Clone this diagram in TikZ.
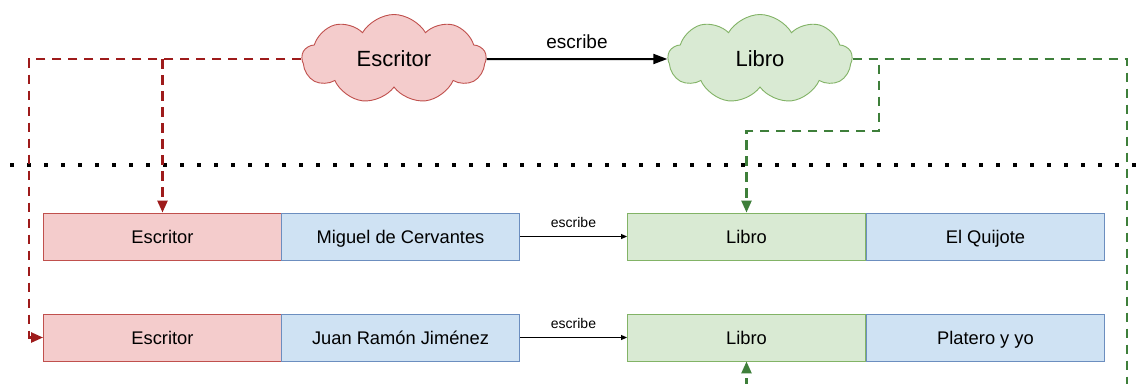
\documentclass[tikz,border=0pt]{standalone}
\usepackage{fontspec}
\setmainfont{Liberation Sans}
\usetikzlibrary{shapes.symbols,arrows.meta,calc}

\definecolor{redfill}{HTML}{F4CCCC}
\definecolor{rededge}{HTML}{C0504D}
\definecolor{redlink}{HTML}{9E1B1B}
\definecolor{greenfill}{HTML}{D9EAD3}
\definecolor{greenedge}{HTML}{82B366}
\definecolor{greenlink}{HTML}{3E7F3A}
\definecolor{bluefill}{HTML}{CFE2F3}
\definecolor{blueedge}{HTML}{6C8EBF}

\tikzset{
  concept/.style={cloud, cloud puffs=9, cloud puff arc=120, cloud ignores aspect,
    minimum width=184pt, minimum height=89pt, line width=0.9pt,
    font=\fontsize{22}{24}\selectfont, inner sep=0pt,
    text height=15.5pt, text depth=0pt},
  cell/.style={rectangle, minimum width=238pt, minimum height=47pt, line width=0.9pt,
    font=\fontsize{18.3}{20}\selectfont, inner sep=0pt,
    text height=13.1pt, text depth=0pt},
  redcell/.style={cell, fill=redfill, draw=rededge},
  bluecell/.style={cell, fill=bluefill, draw=blueedge},
  greencell/.style={cell, fill=greenfill, draw=greenedge},
  reddash/.style={draw=redlink, line width=2.4pt, dash pattern=on 9.5pt off 6.5pt,
    -{Triangle[length=12pt,width=10pt]}},
  greendash/.style={draw=greenlink, line width=2.4pt, dash pattern=on 9.5pt off 6.5pt,
    -{Triangle[length=12pt,width=10pt]}},
  bigrel/.style={draw=black, line width=2pt, -{Triangle[length=14pt,width=10pt]}},
  smallrel/.style={draw=black, line width=1pt, -{Triangle[length=6pt,width=5pt]}},
  rellabel/.style={font=\fontsize{14}{16}\selectfont, inner sep=0pt},
  toplabel/.style={font=\fontsize{19}{21}\selectfont, inner sep=0pt},
}

\begin{document}
\begin{tikzpicture}[x=1pt, y=-1pt]
  \clip (0,0) rectangle (1139,383);
  \fill[white] (0,0) rectangle (1139,383);

  % separator between the model and its instances
  \draw[line width=3.5pt, dash pattern=on 3.5pt off 13.5pt] (10,165) -- (1145,165);

  % concepts
  \node[concept, fill=redfill, draw=rededge] (ec) at (394,59) {Escritor};
  \node[concept, fill=greenfill, draw=greenedge] (lc) at (760,59) {Libro};
  \draw[bigrel] (ec.east) -- node[toplabel, above=9pt] {escribe} (lc.west);

  % instances
  \node[redcell]   (e1) at (162.5,236.5) {Escritor};
  \node[bluecell]  (m1) at (400.5,236.5) {Miguel de Cervantes};
  \node[greencell] (l1) at (746.5,236.5) {Libro};
  \node[bluecell]  (q1) at (985.5,236.5) {El Quijote};

  \node[redcell]   (e2) at (162.5,337.5) {Escritor};
  \node[bluecell]  (m2) at (400.5,337.5) {Juan Ramón Jiménez};
  \node[greencell] (l2) at (746.5,337.5) {Libro};
  \node[bluecell]  (q2) at (985.5,337.5) {Platero y yo};

  \draw[smallrel] (m1.east) -- node[rellabel, above=8pt] {escribe} (l1.west);
  \draw[smallrel] (m2.east) -- node[rellabel, above=8pt] {escribe} (l2.west);

  % links from the writer concept to its instances
  \coordinate (rleft) at (29,337.5);
  \coordinate (rsplit) at (ec.west -| e1.north);
  \draw[reddash] (ec.west) -| (rleft) -- (e2.west);
  \draw[reddash] (rsplit) -- (e1.north);

  % links from the book concept to its instances
  \coordinate (gbend) at (879,131);
  \coordinate (gright) at (1127,400);
  \draw[greendash] (lc.east) -| (gbend) -| (l1.north);
  \draw[greendash] (lc.east) -| (gright) -| (l2.south);
\end{tikzpicture}
\end{document}
